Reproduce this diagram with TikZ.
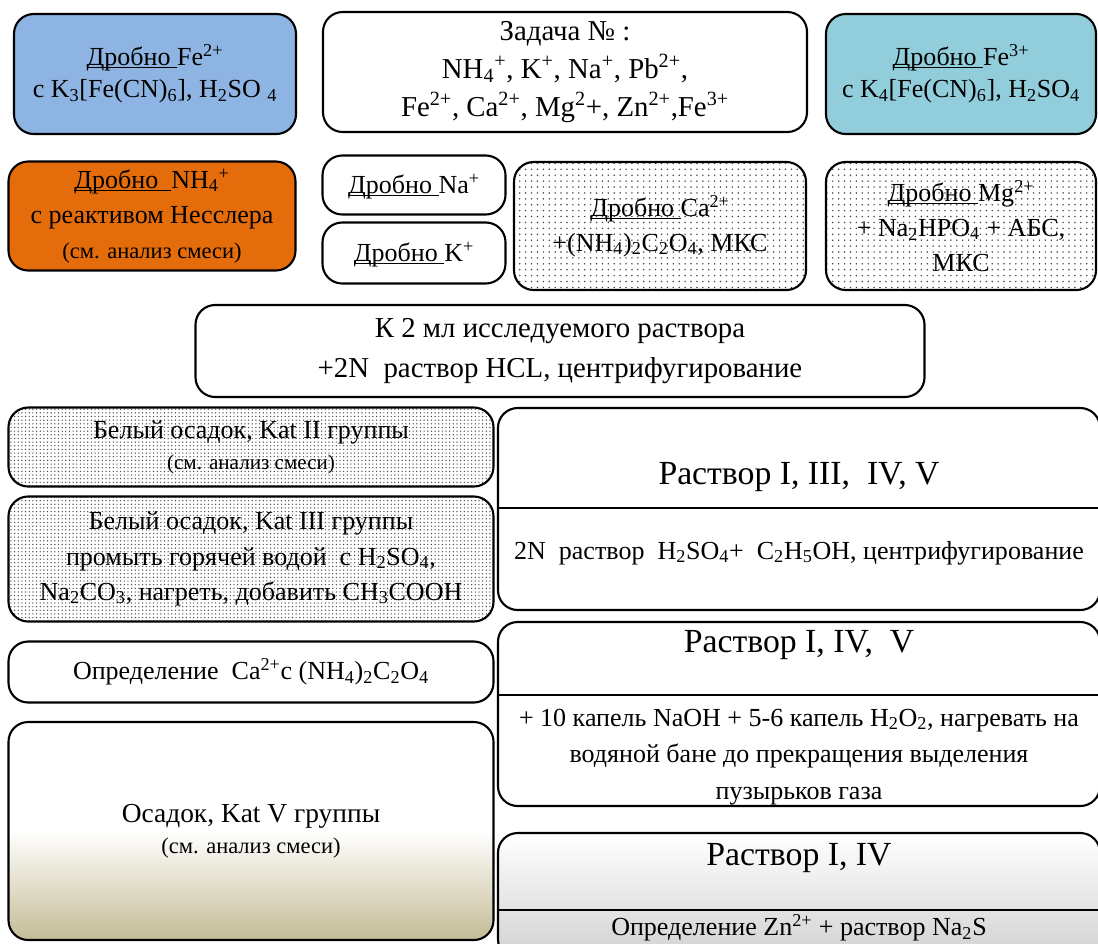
\documentclass[tikz,border=0pt]{standalone}
\usepackage{fontspec}
\setmainfont{Liberation Serif}
\usetikzlibrary{patterns.meta}
\definecolor{myBlue}{RGB}{141, 180, 226}
\definecolor{myCyan}{RGB}{146, 205, 220}
\definecolor{myOrange}{RGB}{228, 108, 10}
\definecolor{myKhaki}{RGB}{196, 188, 150}
\definecolor{myDots}{RGB}{70, 70, 70}
\newcommand{\fs}[2]{\fontsize{#1}{#2}\selectfont}
\newcommand{\uln}[1]{\underline{\smash{#1}}}
\tikzset{
	box/.style={draw, line width=1.5pt, rounded corners=14pt, align=center, inner sep=2pt, font=\fs{18.5}{25}},
	wh/.style 2 args={minimum width=#1*0.025cm, minimum height=#2*0.025cm},
	fine dots/.style={pattern={Dots[distance=2.6pt, radius=0.5pt]}, pattern color=myDots},
	sparse dots/.style={pattern={Dots[distance=4.2pt, radius=0.6pt]}, pattern color=myDots},
	title/.style={font=\fs{24}{28}}
}

\begin{document}
\begin{tikzpicture}[x=0.025cm, y=-0.025cm]
				\useasboundingbox (0,0) rectangle (1098,943);
				\fill[white] (0,0) rectangle (1098,943);

				\draw (155,74) node[box, wh={282}{120}, fill=myBlue, font=\fs{18.5}{23}] (fe2) {\uln{Дробно }Fe\textsuperscript{2+}\\с K\textsubscript{3}[Fe(CN)\textsubscript{6}], H\textsubscript{2}SO \textsubscript{4}};
				\draw (565,72) node[box, wh={484}{120}, font=\fs{20.5}{27}] (task) {Задача № :\\NH\textsubscript{4}\textsuperscript{+}, K\textsuperscript{+}, Na\textsuperscript{+}, Pb\textsuperscript{2+},\\Fe\textsuperscript{2+}, Ca\textsuperscript{2+}, Mg\textsuperscript{2}+, Zn\textsuperscript{2+},Fe\textsuperscript{3+}};
				\draw (961,74) node[box, wh={270}{120}, fill=myCyan, font=\fs{18.5}{23}] (fe3) {\uln{Дробно }Fe\textsuperscript{3+}\\с K\textsubscript{4}[Fe(CN)\textsubscript{6}], H\textsubscript{2}SO\textsubscript{4}};

				\draw (152,216) node[box, wh={287}{109}, fill=myOrange] (nh4) {\uln{Дробно\ \ }NH\textsubscript{4}\textsuperscript{+}\\с реактивом Несслера\\{\fs{16}{18}(см. анализ смеси)}};
				\draw (414,185) node[box, wh={183}{59}] (na) {\uln{Дробно }Na\textsuperscript{+}};
				\draw (414,253) node[box, wh={183}{61}] (k) {\uln{Дробно }K\textsuperscript{+}};
				\draw (660,226) node[box, wh={292}{128}, sparse dots] (ca) {\uln{Дробно }Ca\textsuperscript{2+}\\+(NH\textsubscript{4})\textsubscript{2}C\textsubscript{2}O\textsubscript{4}, МКС};
				\draw (961,226) node[box, wh={270}{128}, sparse dots] (mg) {\uln{Дробно }Mg\textsuperscript{2+}\\+ Na\textsubscript{2}HPO\textsubscript{4} + АБС,\\МКС};

				\draw (560,351) node[box, wh={729}{92}, font=\fs{20.5}{28}] (start) {К 2 мл исследуемого раствора\\+2N\ \ раствор HCL, центрифугирование};

				\draw (251,447) node[box, wh={485}{79}, fine dots, font=\fs{18.5}{22}] (kat2) {Белый осадок, Kat II группы\\{\fs{15}{18}(см. анализ смеси)}};
				\draw (251,559) node[box, wh={485}{125}, fine dots, font=\fs{18.5}{25}] (kat3) {Белый осадок, Kat III группы\\промыть горячей водой\ \ с H\textsubscript{2}SO\textsubscript{4},\\Na\textsubscript{2}CO\textsubscript{3}, нагреть, добавить CH\textsubscript{3}COOH};
				\draw (251,672) node[box, wh={485}{61}] (defca) {Определение\ \ Ca\textsuperscript{2+}с (NH\textsubscript{4})\textsubscript{2}C\textsubscript{2}O\textsubscript{4}};
				\draw (251,831) node[box, wh={485}{218}, top color=white, bottom color=myKhaki, middle color=white, font=\fs{19.5}{22}] (kat5) {Осадок, Kat V группы\\{\fs{16}{18}(см. анализ смеси)}};

				\draw (799,509) node[box, wh={602}{202}] (sol1) {};
				\draw (799,714) node[box, wh={602}{184}] (sol2) {};
				\draw (799,896) node[box, wh={602}{126}, top color=white, bottom color=black!18] (sol3) {};

				\coordinate (d1) at (0,508);
				\coordinate (d2) at (0,695);
				\coordinate (d3) at (0,910);
				\draw[line width=1.5pt] (sol1.west |- d1) -- (sol1.east |- d1);
				\draw[line width=1.5pt] (sol2.west |- d2) -- (sol2.east |- d2);
				\draw[line width=1.5pt] (sol3.west |- d3) -- (sol3.east |- d3);

				\node[title] (sol1t) at (799,477) {Раствор I, III,\ \ IV, V};
				\node[font=\fs{18.5}{24}] (sol1b) at (799,553) {2N\ \ раствор\ \ H\textsubscript{2}SO\textsubscript{4}+\ \ C\textsubscript{2}H\textsubscript{5}OH, центрифугирование};
				\node[title] (sol2t) at (799,645) {Раствор I, IV,\ \ V};
				\node[font=\fs{18.5}{26}, align=center] (sol2b) at (799,757) {+ 10 капель NaOH + 5-6 капель H\textsubscript{2}O\textsubscript{2}, нагревать на\\водяной бане до прекращения выделения\\пузырьков газа};
				\node[title] (sol3t) at (799,858) {Раствор I, IV};
				\node[font=\fs{18.5}{24}] (sol3b) at (799,928) {Определение Zn\textsuperscript{2+} + раствор Na\textsubscript{2}S};
\end{tikzpicture}
\end{document}
